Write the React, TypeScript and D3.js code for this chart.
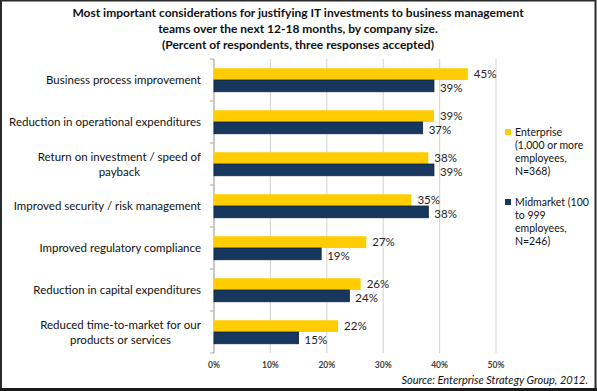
import * as d3 from "d3";

const categories = [
  ["Business process improvement"],
  ["Reduction in operational expenditures"],
  ["Return on investment / speed of", "payback"],
  ["Improved security / risk management"],
  ["Improved regulatory compliance"],
  ["Reduction in capital expenditures"],
  ["Reduced time-to-market for our", "products or services"],
];
const enterprise = [45, 39, 38, 35, 27, 26, 22];
const midmarket = [39, 37, 39, 38, 19, 24, 15];
const xTicks = [0, 10, 20, 30, 40, 50];
const titleLines = [
  "Most important considerations for justifying IT investments to business management",
  "teams over the next 12-18 months, by company size.",
  "(Percent of respondents, three responses accepted)",
];
const legendEnterprise = ["Enterprise", "(1,000 or more", "employees,", "N=368)"];
const legendMidmarket = ["Midmarket (100", "to 999", "employees,", "N=246)"];
const source = "Source: Enterprise Strategy Group, 2012.";

const W = 597;
const H = 391;
const FONT = "Lato, 'Open Sans', sans-serif";
const YELLOW = "#FFCC00";
const NAVY = "#17375E";
const labelSize = 11.5;

let ctx: CanvasRenderingContext2D | null = null;
const textWidth = (t: string, size: number) => {
  if (!ctx) ctx = document.createElement("canvas").getContext("2d");
  if (!ctx) return t.length * size * 0.5;
  ctx.font = `${size}px Lato`;
  return ctx.measureText(t).width;
};

export default function App() {
  const margin = { top: 59, left: 214, right: 101, bottom: 38 };
  const x = d3.scaleLinear().domain([0, 50]).range([margin.left, W - margin.right]);
  const idx = categories.map((_, i) => i);
  const y = d3
    .scaleBand<number>()
    .domain(idx)
    .range([margin.top, H - margin.bottom])
    .paddingInner(0.44)
    .paddingOuter(0.22);
  const step = y.step();
  const bw = y.bandwidth() / 2;
  const labelRight = 201;

  return (
    <svg
      width={W}
      height={H}
      style={{ position: "absolute", left: 0, top: 0, background: "#fff" }}
      fontFamily={FONT}
    >
      <rect x={1} y={0.5} width={W - 2.5} height={H - 2} fill="#fff" stroke="#2b2b2b" strokeWidth={2} />
      <line x1={0} x2={W} y1={H - 1.5} y2={H - 1.5} stroke="#1a1a1a" strokeWidth={3} />

      {titleLines.map((t, i) => (
        <text key={i} x={298} y={17 + i * 16} textAnchor="middle" fontSize={12} fontWeight="bold" fill="#111">
          {t}
        </text>
      ))}

      {/* gridlines */}
      {xTicks.slice(1).map((t) => (
        <line key={t} x1={x(t)} x2={x(t)} y1={margin.top} y2={H - margin.bottom} stroke="#D9D9D9" strokeWidth={1.2} />
      ))}
      {/* y axis */}
      <line x1={x(0)} x2={x(0)} y1={margin.top} y2={H - margin.bottom} stroke="#A6A6A6" strokeWidth={1.2} />
      {d3.range(categories.length + 1).map((i) => (
        <line
          key={i}
          x1={x(0) - 4}
          x2={x(0)}
          y1={margin.top + i * step}
          y2={margin.top + i * step}
          stroke="#A6A6A6"
        />
      ))}
      {xTicks.map((t) => (
        <text key={t} x={x(t)} y={368} textAnchor="middle" fontSize={8.5} fontWeight="bold" fill="#404040">
          {t}%
        </text>
      ))}

      {idx.map((i) => {
        const y0 = y(i) as number;
        const cy = margin.top + i * step + step / 2;
        const lines = categories[i];
        return (
          <g key={i}>
            <rect x={x(0)} y={y0} width={x(enterprise[i]) - x(0)} height={bw} fill={YELLOW} />
            <rect
              x={x(0)}
              y={y0 + bw}
              width={x(midmarket[i]) - x(0)}
              height={bw}
              fill={NAVY}
              stroke="#0E2440"
              strokeWidth={0.8}
            />
            <text x={x(enterprise[i]) + 6} y={y0 + bw / 2 + 4} fontSize={11.5} fill="#222">
              {enterprise[i]}%
            </text>
            <text x={x(midmarket[i]) + 6} y={y0 + bw * 1.5 + 6} fontSize={11.5} fill="#222">
              {midmarket[i]}%
            </text>
            {lines.length === 1 ? (
              <text x={labelRight} y={cy + 4} textAnchor="end" fontSize={labelSize} fill="#111">
                {lines[0]}
              </text>
            ) : (
              lines.map((l, j) => {
                const cx = labelRight - textWidth(lines[0], labelSize) / 2;
                return (
                  <text
                    key={j}
                    x={cx}
                    y={cy + 4 + (j - 0.5) * 15}
                    textAnchor="middle"
                    fontSize={labelSize}
                    fill="#111"
                  >
                    {l}
                  </text>
                );
              })
            )}
          </g>
        );
      })}

      {/* legend */}
      <rect x={505} y={129} width={6} height={6} fill={YELLOW} />
      {legendEnterprise.map((t, i) => (
        <text key={i} x={515} y={135.5 + i * 13.3} fontSize={10.5} fill="#111">
          {t}
        </text>
      ))}
      <rect x={505} y={199} width={6} height={6} fill={NAVY} />
      {legendMidmarket.map((t, i) => (
        <text key={i} x={515} y={205.5 + i * 13.3} fontSize={10.5} fill="#111">
          {t}
        </text>
      ))}

      <text x={588} y={384} textAnchor="end" fontSize={11} fontStyle="italic" fill="#111">
        {source}
      </text>
    </svg>
  );
}
